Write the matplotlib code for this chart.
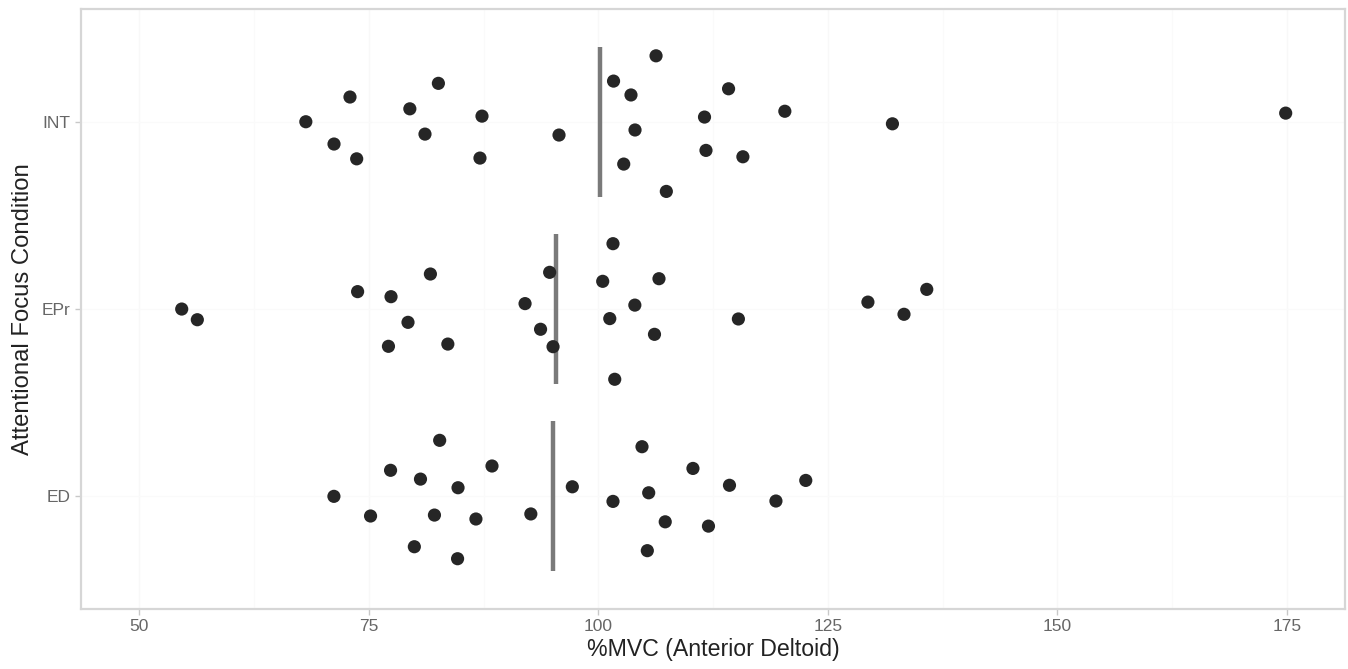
import matplotlib
matplotlib.use("Agg")
import matplotlib.pyplot as plt
import numpy as np

plt.rcParams['font.family'] = ['Liberation Sans', 'DejaVu Sans']

categories = ["ED", "EPr", "INT"]

int_values = [106.29, 101.66, 82.58, 72.95, 103.56, 114.19, 79.47, 120.32, 68.14, 87.33,
              111.57, 132.04, 174.88, 71.21, 81.12, 95.72, 104.00, 73.68, 87.11, 111.73,
              115.75, 102.77, 107.41]
int_jitter = [0.352, 0.217, 0.205, 0.132, 0.143, 0.176, 0.069, 0.056, 0.000, 0.030,
              0.025, -0.011, 0.046, -0.119, -0.066, -0.071, -0.044, -0.198, -0.194, -0.153,
              -0.187, -0.226, -0.372]

epr_values = [54.62, 56.32, 73.78, 77.42, 81.71, 79.27, 77.14, 83.61, 92.02, 94.70,
              93.71, 95.07, 101.60, 100.48, 106.61, 103.98, 101.25, 106.12, 101.79, 115.26,
              129.37, 133.30, 135.78]
epr_jitter = [0.000, -0.057, 0.093, 0.066, 0.187, -0.071, -0.199, -0.187, 0.029, 0.196,
              -0.108, -0.201, 0.349, 0.148, 0.162, 0.021, -0.051, -0.135, -0.375, -0.053,
              0.037, -0.028, 0.105]

ed_values = [71.20, 77.37, 80.63, 82.72, 88.42, 84.72, 75.19, 82.15, 86.67, 92.65,
             79.96, 84.67, 97.17, 101.60, 104.76, 105.49, 107.29, 105.34, 110.31, 114.29,
             119.35, 122.60, 112.00]
ed_jitter = [0.000, 0.139, 0.092, 0.299, 0.162, 0.046, -0.105, -0.100, -0.121, -0.094,
             -0.269, -0.333, 0.051, -0.027, 0.265, 0.019, -0.136, -0.290, 0.149, 0.059,
             -0.025, 0.085, -0.159]

x_ticks = [50, 75, 100, 125, 150, 175]

groups = [(ed_values, ed_jitter), (epr_values, epr_jitter), (int_values, int_jitter)]

fig = plt.figure(figsize=(13.48, 6.69), dpi=100)
ax = fig.add_axes([0.0601, 0.0901, 0.9374, 0.8959])

for i, (vals, jit) in enumerate(groups):
    pos = i + 1
    ax.scatter(vals, np.array(jit) + pos, s=90, color='#262626', edgecolors='none', zorder=3)
    m = np.mean(vals)
    ax.plot([m, m], [pos - 0.4, pos + 0.4], color='#7a7a7a', lw=3.2, solid_capstyle='butt', zorder=2)

ax.set_xlim(43.65, 181.3)
ax.set_ylim(0.40, 3.60)
ax.set_xticks(x_ticks)
ax.set_xticks([62.5, 87.5, 112.5, 137.5, 162.5], minor=True)
ax.set_yticks([1, 2, 3])
ax.set_yticklabels(categories)

ax.grid(True, which='major', axis='x', color='#f8f8f8', lw=1.0, zorder=0)
ax.grid(True, which='minor', axis='x', color='#fafafa', lw=0.8, zorder=0)
ax.grid(True, which='major', axis='y', color='#fafafa', lw=1.0, zorder=0)

for sp in ax.spines.values():
    sp.set_color('#d6d6d6')
    sp.set_linewidth(1.6)

ax.tick_params(axis='both', which='major', colors='#c8c8c8', labelcolor='#666666',
               labelsize=12.5, length=4, width=1)
ax.tick_params(axis='both', which='minor', length=0)

ax.set_xlabel("%MVC (Anterior Deltoid)", fontsize=16.7, color='#222222', labelpad=3)
ax.set_ylabel("Attentional Focus Condition", fontsize=17.2, color='#222222', labelpad=6)

fig.savefig("out.png", dpi=100)
